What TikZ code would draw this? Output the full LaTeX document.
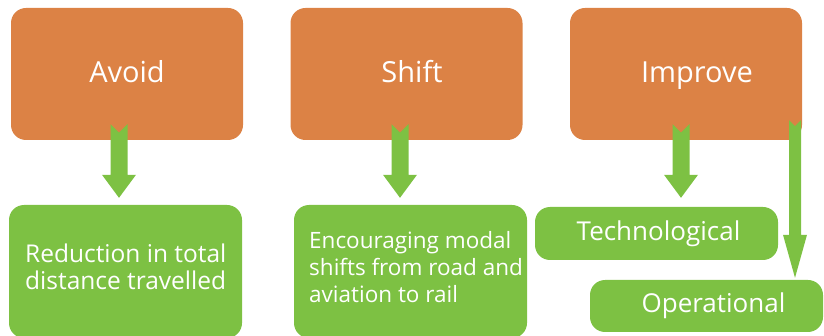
\documentclass[tikz,border=0pt]{standalone}
\usepackage{fontspec}
\setmainfont{Open Sans}
\usetikzlibrary{calc}

\definecolor{orangebox}{RGB}{220,130,69}
\definecolor{greenbox}{RGB}{125,193,67}

% block arrow: tail, tip, half shaft, half head, head length
\newcommand{\fatarrow}[5]{%
  \fill[greenbox] let \p1=(#1), \p2=(#2) in
    (\x1-#3,\y1) -- (\x1,\y1-#3) -- (\x1+#3,\y1) -- (\x1+#3,\y2+#5)
    -- (\x1+#4,\y2+#5) -- (\x1,\y2) -- (\x1-#4,\y2+#5) -- (\x1-#3,\y2+#5) -- cycle;
}

\begin{document}
\begin{tikzpicture}[x=1pt, y=-1pt,
    every node/.style={inner sep=0pt, text=white},
    topbox/.style={fill=orangebox, rounded corners=15pt, minimum width=232pt,
        minimum height=132pt, text height=21pt, text depth=3pt,
        font=\fontsize{29}{34}\selectfont},
    lowbox/.style={fill=greenbox, rounded corners=15pt},
    linebox/.style={lowbox, minimum width=233pt, minimum height=52pt,
        text height=20pt, text depth=6.5pt, font=\fontsize{26}{30}\selectfont},
    lowtext/.style={align=left, anchor=north west,
        font=\fontsize{24.5}{27.3}\selectfont}]
    \useasboundingbox (0,0) rectangle (824,336);

    \node[topbox] (avoid)   at (127,74)   {Avoid};
    \node[topbox] (shift)   at (406.5,74) {\hspace*{11pt}Shift};
    \node[topbox] (improve) at (686,74)   {\hspace*{22pt}Improve};

    \node[lowbox, minimum width=233pt, minimum height=133pt] (reduce) at (125.5,271.5) {};
    \node[lowbox, minimum width=233pt, minimum height=133pt] (modal)  at (410.5,271.5) {};
    \node[linebox, minimum width=243pt, minimum height=53pt] (techno) at (656.5,233.5) {\hspace*{4pt}Technological};
    \node[linebox] (oper) at (706.5,306) {\hspace*{14pt}Operational};

    \node[lowtext] (reducetext) at (25,243.4) {Reduction in total\\distance travelled};
    \node[lowtext, font=\fontsize{22.5}{27}\selectfont] (modaltext) at (309,231)
        {Encouraging modal\\shifts from road and\\aviation to rail};

    \foreach \src/\dst/\dx/\gap in {avoid/reduce/-8/7, shift/modal/-6.5/7, improve/techno/-5/9} {
        \coordinate (\src-tail) at ([xshift=\dx pt, yshift=16pt]\src.south);
        \coordinate (\dst-tip) at ([yshift=\gap pt]\dst.north);
        \fatarrow{\src-tail}{\dst-tip}{8.5pt}{17pt}{23pt}
    }

    \coordinate (oper-tail) at ([xshift=109pt, yshift=20pt]improve.south);
    \coordinate (oper-tip) at ([yshift=2pt]oper.north);
    \fatarrow{oper-tail}{oper-tip}{6pt}{12pt}{43pt}
\end{tikzpicture}
\end{document}
